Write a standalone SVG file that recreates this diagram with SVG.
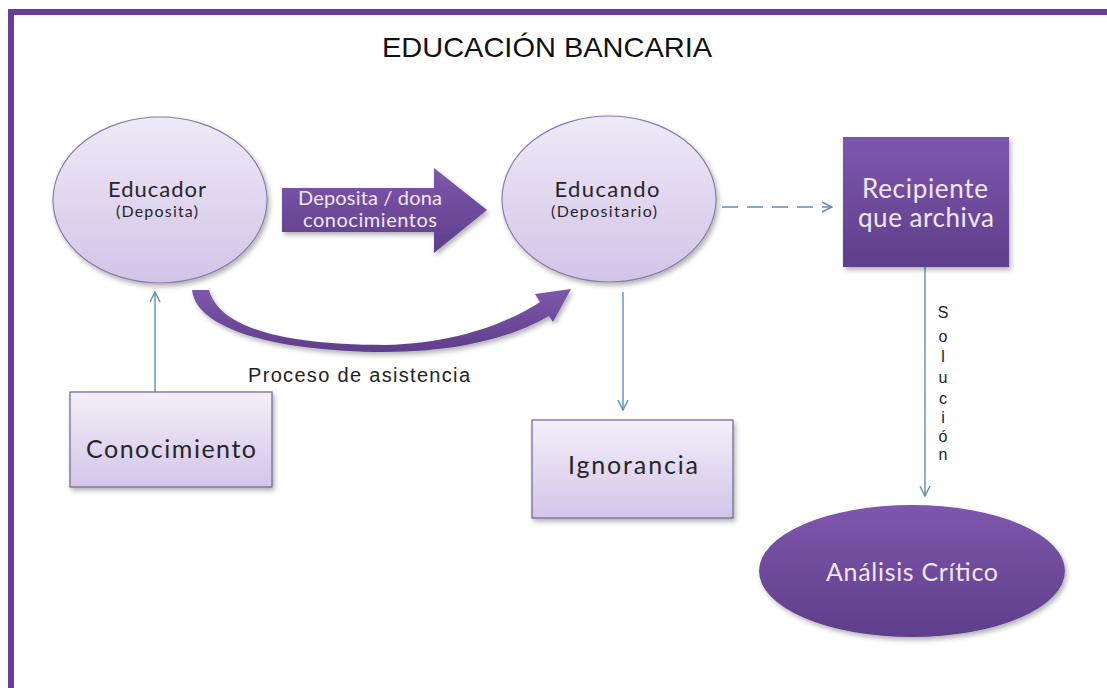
<svg xmlns="http://www.w3.org/2000/svg" width="1107" height="688" viewBox="0 0 1107 688">
  <defs>
    <linearGradient id="gLight" x1="0" y1="0" x2="0" y2="1">
      <stop offset="0" stop-color="#efe9f7"/>
      <stop offset="1" stop-color="#d2c4e8"/>
    </linearGradient>
    <linearGradient id="gBox" x1="0" y1="0" x2="0" y2="1">
      <stop offset="0" stop-color="#f3eff9"/>
      <stop offset="1" stop-color="#d3c5e9"/>
    </linearGradient>
    <linearGradient id="gDark" x1="0" y1="0" x2="0" y2="1">
      <stop offset="0" stop-color="#7e57ad"/>
      <stop offset="1" stop-color="#5f3e8a"/>
    </linearGradient>
    <filter id="shadow" x="-10%" y="-10%" width="125%" height="130%">
      <feDropShadow dx="2" dy="3" stdDeviation="2.5" flood-color="#000" flood-opacity="0.3"/>
    </filter>
    <marker id="open" viewBox="0 0 12 12" refX="11" refY="6" markerWidth="12" markerHeight="12" markerUnits="userSpaceOnUse" orient="auto">
      <path d="M1,1 L11,6 L1,11" fill="none" stroke="#5f8db8" stroke-width="1.4"/>
    </marker>
    <style>
      .frame { fill: #6b3c9c; }
      .title { font-family: "Liberation Sans", Arial, sans-serif; font-size: 28px; fill: #111; }
      .lbl { font-family: "Liberation Sans", Arial, sans-serif; fill: #222; }
      .node-l { fill: url(#gLight); stroke: #8a7ba6; stroke-width: 1.2; filter: url(#shadow); }
      .box-l { fill: url(#gBox); stroke: #6f6290; stroke-width: 1.2; filter: url(#shadow); }
      .dark { fill: url(#gDark); filter: url(#shadow); }
      .t { font-family: Lato, "Open Sans", sans-serif; text-anchor: middle; }
      .tdark { fill: #262626; }
      .tlight { fill: #efe7f8; }
      .conn { fill: none; stroke: #5f8db8; stroke-width: 1.4; }
    </style>
  </defs>

  <rect width="1107" height="688" fill="#ffffff"/>
  <rect class="frame" x="8" y="9" width="1099" height="6"/>
  <rect class="frame" x="8" y="9" width="6" height="679"/>

  <text class="title" x="547" y="57" text-anchor="middle" textLength="330" lengthAdjust="spacingAndGlyphs">EDUCACIÓN BANCARIA</text>

  <g id="connectors">
    <line class="conn" x1="155" y1="392" x2="155" y2="292" marker-end="url(#open)"/>
    <line class="conn" x1="623" y1="292" x2="623" y2="410" marker-end="url(#open)"/>
    <line class="conn" x1="722" y1="207" x2="832" y2="207" stroke-dasharray="16,9" marker-end="url(#open)"/>
    <line class="conn" x1="925" y1="267" x2="925" y2="496" marker-end="url(#open)"/>
    <g id="solucion" class="lbl" font-size="16" text-anchor="middle">
      <text x="943" y="318">S</text>
      <text x="943" y="342">o</text>
      <text x="943" y="362">l</text>
      <text x="943" y="383">u</text>
      <text x="943" y="404">c</text>
      <text x="943" y="423">i</text>
      <text x="943" y="442">ó</text>
      <text x="943" y="460">n</text>
    </g>
  </g>

  <g id="arrow-deposita">
    <path class="dark" d="M282,188 L434,188 L434,168 L487,210 L434,253 L434,232 L282,232 Z"/>
    <text class="t tlight" x="370" y="205" font-size="20" textLength="144" lengthAdjust="spacing">Deposita / dona</text>
    <text class="t tlight" x="370" y="227" font-size="20" textLength="134" lengthAdjust="spacing">conocimientos</text>
  </g>

  <g id="arrow-proceso">
    <path class="dark" d="M192,290 C196,330 280,352 385,352 C460,352 515,336 549,316 L553,322 L571,289 L535,294 L540,302 C505,325 450,344 385,345 C290,345 220,330 209,290 Z"/>
    <text class="lbl" x="359" y="382" font-size="20" text-anchor="middle" textLength="222" lengthAdjust="spacing">Proceso de asistencia</text>
  </g>

  <g id="educador">
    <ellipse class="node-l" cx="160" cy="200" rx="107" ry="83"/>
    <text class="t tdark" x="157" y="197" font-size="22" textLength="98" lengthAdjust="spacing">Educador</text>
    <text class="t tdark" x="157" y="217" font-size="16" textLength="82" lengthAdjust="spacing">(Deposita)</text>
  </g>

  <g id="educando">
    <ellipse class="node-l" cx="609" cy="199" rx="107" ry="83"/>
    <text class="t tdark" x="607" y="197" font-size="22" textLength="105" lengthAdjust="spacing">Educando</text>
    <text class="t tdark" x="604" y="217" font-size="16" textLength="106" lengthAdjust="spacing">(Depositario)</text>
  </g>

  <g id="recipiente">
    <rect class="dark" x="843" y="137" width="166" height="130"/>
    <text class="t tlight" x="925" y="198" font-size="26" textLength="126" lengthAdjust="spacing">Recipiente</text>
    <text class="t tlight" x="926" y="227" font-size="26" textLength="136" lengthAdjust="spacing">que archiva</text>
  </g>

  <g id="conocimiento">
    <rect class="box-l" x="70" y="392" width="202" height="95"/>
    <text class="t tdark" x="171" y="458" font-size="25" textLength="170" lengthAdjust="spacing">Conocimiento</text>
  </g>

  <g id="ignorancia">
    <rect class="box-l" x="532" y="420" width="201" height="98"/>
    <text class="t tdark" x="633" y="474" font-size="25" textLength="130" lengthAdjust="spacing">Ignorancia</text>
  </g>

  <g id="analisis">
    <ellipse class="dark" cx="912" cy="571" rx="153" ry="66"/>
    <text class="t tlight" x="912" y="581" font-size="25" textLength="172" lengthAdjust="spacing">Análisis Crítico</text>
  </g>
</svg>
